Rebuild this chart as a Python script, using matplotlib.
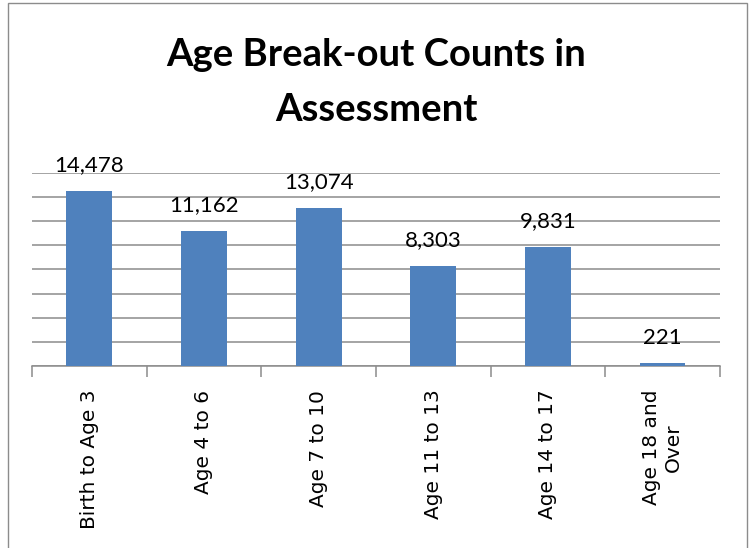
import numpy as np
import matplotlib.pyplot as plt
from matplotlib.patches import Rectangle

categories = ['Birth to Age 3', 'Age 4 to 6', 'Age 7 to 10',
              'Age 11 to 13', 'Age 14 to 17', 'Age 18 and\nOver']
counts = [14478, 11162, 13074, 8303, 9831, 221]


def main():
    fig = plt.figure(figsize=(7.53, 5.48), dpi=100)
    ax = fig.add_axes([0.0425, 0.332, 0.9135, 0.353])

    ind = np.arange(len(categories))
    ax.bar(ind, counts, 0.4, color='#4f81bd', zorder=3)

    for i in ind:
        ax.text(ind[i], counts[i] + 1300, format(counts[i], ','),
                ha='center', va='bottom', fontsize=16, family='Lato')

    ax.set_xlim(-0.5, len(categories) - 0.5)
    ax.set_ylim(0, 16000)
    ax.set_yticks(np.arange(0, 16001, 2000))
    ax.grid(True, axis='y', color='#8c8c8c', linewidth=1.1, zorder=0)
    ax.tick_params(axis='y', left=False, labelleft=False)

    ax.set_xticks(ind)
    ax.set_xticklabels(categories, rotation=90, fontsize=14.5,
                       family='DejaVu Sans', va='top', ha='center',
                       multialignment='center')
    ax.tick_params(axis='x', which='major', length=0, pad=17)
    ax.set_xticks(np.arange(-0.5, len(categories)), minor=True)
    ax.tick_params(axis='x', which='minor', length=8, color='#8c8c8c', width=1.1)

    for s in ['top', 'left', 'right']:
        ax.spines[s].set_visible(False)
    ax.spines['bottom'].set_color('#8c8c8c')
    ax.spines['bottom'].set_linewidth(1.1)

    fig.text(0.5, 0.900, 'Age Break-out Counts in', ha='center', va='center',
             fontsize=27.5, fontweight='bold', family='Lato')
    fig.text(0.5, 0.800, 'Assessment', ha='center', va='center',
             fontsize=27.5, fontweight='bold', family='Lato')

    fig.patches.append(Rectangle((0.0106, -0.05), 0.981, 1.0445,
                                 transform=fig.transFigure, fill=False,
                                 edgecolor='#8c8c8c', linewidth=1))

    plt.savefig('out.png')


if __name__ == '__main__':
    main()
